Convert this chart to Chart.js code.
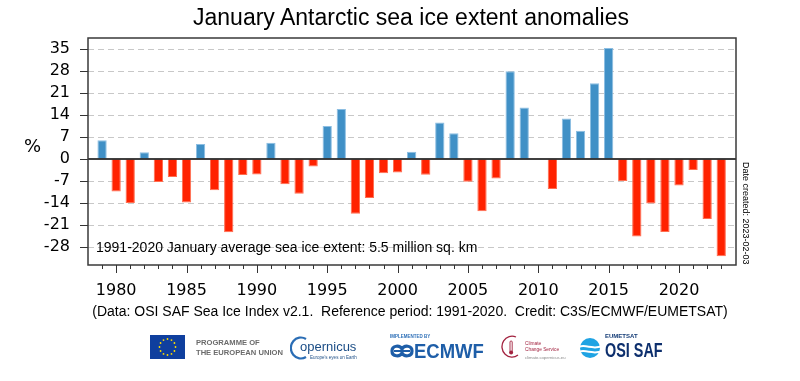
<!DOCTYPE html>
<html><head><meta charset="utf-8">
<script src="https://cdn.jsdelivr.net/npm/chart.js@4.4.0/dist/chart.umd.min.js"></script>
<style>
html,body{margin:0;padding:0;background:#fff;}
#wrap{position:relative;width:800px;height:381px;overflow:hidden;background:#fff;}
canvas{position:absolute;left:0;top:0;}
.t{position:absolute;white-space:nowrap;font-family:"Liberation Sans",Arial,sans-serif;color:#000;}
svg{position:absolute;}
</style></head><body>
<div id="wrap">
<canvas id="c" width="800" height="381"></canvas>
<div class="t" style="left:0;width:822px;text-align:center;top:5px;font-size:23px;line-height:24px;">January Antarctic sea ice extent anomalies</div>
<div class="t" style="left:24px;top:135px;font-family:'DejaVu Sans',sans-serif;font-size:18px;line-height:22px;">%</div>
<div class="t" style="left:96px;top:239px;font-size:14px;line-height:16px;">1991-2020 January average sea ice extent: 5.5 million sq. km</div>
<div class="t" style="left:0;width:820px;text-align:center;top:303px;font-size:14px;line-height:16px;">(Data: OSI SAF Sea Ice Index v2.1.&nbsp; Reference period: 1991-2020.&nbsp; Credit: C3S/ECMWF/EUMETSAT)</div>
<div class="t" style="left:751px;top:162px;font-size:9px;line-height:10px;transform:rotate(90deg);transform-origin:0 0;">Date created: 2023-02-03</div>

<!-- logos -->
<svg id="eu" style="left:150px;top:335px" width="35" height="24" viewBox="0 0 35 24"><rect width="35" height="24" fill="#0f3f9e"/><g id="stars" fill="#ffdd00"></g></svg>
<div class="t" style="left:196px;top:338px;font-size:7.6px;line-height:9.5px;font-weight:bold;color:#6b6b6b;">PROGRAMME OF<br>THE EUROPEAN UNION</div>

<svg style="left:290px;top:336px" width="20" height="24" viewBox="0 0 20 24"><path d="M16 3 A10 10.5 0 1 0 16 21" fill="none" stroke="#2a6db5" stroke-width="2.2"/></svg>
<div class="t" style="left:300px;top:340px;font-size:13px;line-height:14px;color:#1b4d86;">opernicus</div>
<div class="t" style="left:310px;top:355px;font-size:4.5px;line-height:5px;color:#1b4d86;">Europe's eyes on Earth</div>

<div class="t" style="left:390px;top:334px;font-size:4.5px;line-height:5px;font-weight:bold;color:#2d6fb7;">IMPLEMENTED BY</div>
<svg style="left:390px;top:343px" width="24" height="16" viewBox="0 0 24 16"><path d="M2 8 C2 2,10 2,12 6 C14 2,22 2,22 8 C22 14,14 14,12 10 C10 14,2 14,2 8 Z" fill="none" stroke="#1e5ea8" stroke-width="3.2"/><rect x="4" y="7" width="16" height="2" fill="#1e5ea8"/></svg>
<div class="t" style="left:414px;top:340px;font-size:21px;line-height:22px;font-weight:bold;color:#1e5ea8;transform:scaleX(0.88);transform-origin:0 0;">ECMWF</div>

<svg style="left:501px;top:335px" width="22" height="24" viewBox="0 0 22 24"><path d="M15 2 A10 10.5 0 1 0 17 20" fill="none" stroke="#a2223f" stroke-width="1.3"/><rect x="9" y="6" width="2.2" height="11" rx="1" fill="none" stroke="#a2223f" stroke-width="0.9"/><circle cx="10.1" cy="17.5" r="2" fill="#a2223f"/></svg>
<div class="t" style="left:525px;top:341px;font-size:4.8px;line-height:5.5px;color:#a2223f;">Climate<br>Change Service</div>
<div class="t" style="left:525px;top:355px;font-size:4.2px;line-height:5px;color:#888;">climate.copernicus.eu</div>

<svg style="left:579px;top:337px" width="23" height="22" viewBox="0 0 23 22"><circle cx="11" cy="11" r="10" fill="#1fa3e3"/><path d="M0 9 C6 6,14 12,23 8 L23 10 C14 14,6 8,0 11 Z M0 14 C6 11,14 17,23 13 L23 15 C14 19,6 13,0 16 Z" fill="#fff"/></svg>
<div class="t" style="left:605px;top:333px;font-size:6px;line-height:7px;font-weight:bold;color:#123a75;">EUMETSAT</div>
<div class="t" style="left:605px;top:340px;font-size:20px;line-height:21px;font-weight:bold;color:#0d2f6d;transform:scaleX(0.72);transform-origin:0 0;">OSI SAF</div>
</div>
<script>
// ---- data ----
const years = [1979,1980,1981,1982,1983,1984,1985,1986,1987,1988,1989,1990,1991,1992,1993,1994,1995,1996,1997,1998,1999,2000,2001,2002,2003,2004,2005,2006,2007,2008,2009,2010,2011,2012,2013,2014,2015,2016,2017,2018,2019,2020,2021,2022,2023];
const anomalies = [6.0,-10.3,-14.0,2.2,-7.3,-5.7,-13.8,4.8,-9.9,-23.3,-5.1,-4.9,5.2,-8.0,-11.0,-2.4,10.5,15.9,-17.4,-12.4,-4.5,-4.3,2.3,-5.0,11.6,8.2,-7.2,-16.6,-6.2,27.9,16.4,null,-9.5,12.9,9.0,24.1,35.3,-7.0,-24.6,-14.1,-23.2,-8.4,-3.5,-19.1,-30.9];
const yTicks = [35,28,21,14,7,0,-7,-14,-21,-28];
const xLabelYears = [1980,1985,1990,1995,2000,2005,2010,2015,2020];

// EU flag stars (decorative)
(function(){
  const g=document.getElementById('stars');
  for(let k=0;k<12;k++){
    const a=k*Math.PI/6;
    const c=document.createElementNS('http://www.w3.org/2000/svg','circle');
    c.setAttribute('cx',(17.5+8*Math.cos(a)).toFixed(2));
    c.setAttribute('cy',(12+8*Math.sin(a)).toFixed(2));
    c.setAttribute('r','0.9');
    g.appendChild(c);
  }
})();

const BLUE='rgb(64,144,198)', BLUE_EDGE='rgb(140,190,226)';
const RED='rgb(255,34,0)', RED_EDGE='rgb(255,110,80)';

const framePlugin = {
  id:'frame',
  afterDatasetsDraw(chart){
    const {ctx, chartArea:a, scales:{x,y}} = chart;
    ctx.save();
    const y0 = y.getPixelForValue(0);
    ctx.strokeStyle='#000'; ctx.lineWidth=1.5;
    ctx.beginPath(); ctx.moveTo(a.left,y0); ctx.lineTo(a.right,y0); ctx.stroke();
    ctx.strokeStyle='#3a3a3a'; ctx.lineWidth=1.5;
    ctx.strokeRect(a.left,a.top,a.right-a.left,a.bottom-a.top);
    ctx.strokeStyle='#333'; ctx.lineWidth=1;
    years.forEach(yr=>{
      const px=Math.round(x.getPixelForValue(yr))+0.5;
      const len = xLabelYears.includes(yr)?8:4;
      ctx.beginPath(); ctx.moveTo(px,a.bottom); ctx.lineTo(px,a.bottom+len); ctx.stroke();
    });
    ctx.restore();
  }
};

new Chart(document.getElementById('c'), {
  type:'bar',
  data:{
    datasets:[{
      data: years.map((yr,i)=>({x:yr,y:anomalies[i]})),
      backgroundColor: c => (c.raw && c.raw.y>=0)?BLUE:RED,
      borderColor: c => (c.raw && c.raw.y>=0)?BLUE_EDGE:RED_EDGE,
      borderWidth: 1,
      borderSkipped: 'start',
      barPercentage: 0.66,
      categoryPercentage: 1.0
    }]
  },
  options:{
    responsive:false,
    animation:false,
    devicePixelRatio:1,
    layout:{padding:{left:0,top:38,right:64,bottom:0}},
    plugins:{legend:{display:false},tooltip:{enabled:false},title:{display:false}},
    scales:{
      x:{
        type:'linear', min:1978, max:2024.05, offset:false,
        grid:{display:false, drawTicks:false},
        border:{display:false},
        afterBuildTicks: s => { s.ticks = years.map(v=>({value:v})); },
        afterFit: s => { s.height = 116; },
        ticks:{
          autoSkip:false, maxRotation:0, padding:16, color:'#000',
          font:{family:'DejaVu Sans', size:16},
          callback: v => xLabelYears.includes(v) ? String(v) : ''
        }
      },
      y:{
        min:-33.7, max:38.5,
        afterBuildTicks: s => { s.ticks = yTicks.map(v=>({value:v})); },
        afterFit: s => { s.width = 88; },
        grid:{
          color: c => (c.tick && c.tick.value===0) ? 'rgba(0,0,0,0)' : '#c8c8c8',
          lineWidth:1, drawTicks:true, tickLength:8, tickColor:'#333', tickWidth:1
        },
        border:{display:false, dash:[6,4]},
        ticks:{padding:10, color:'#000', font:{family:'DejaVu Sans', size:16}}
      }
    }
  },
  plugins:[framePlugin]
});
</script>
</body></html>
